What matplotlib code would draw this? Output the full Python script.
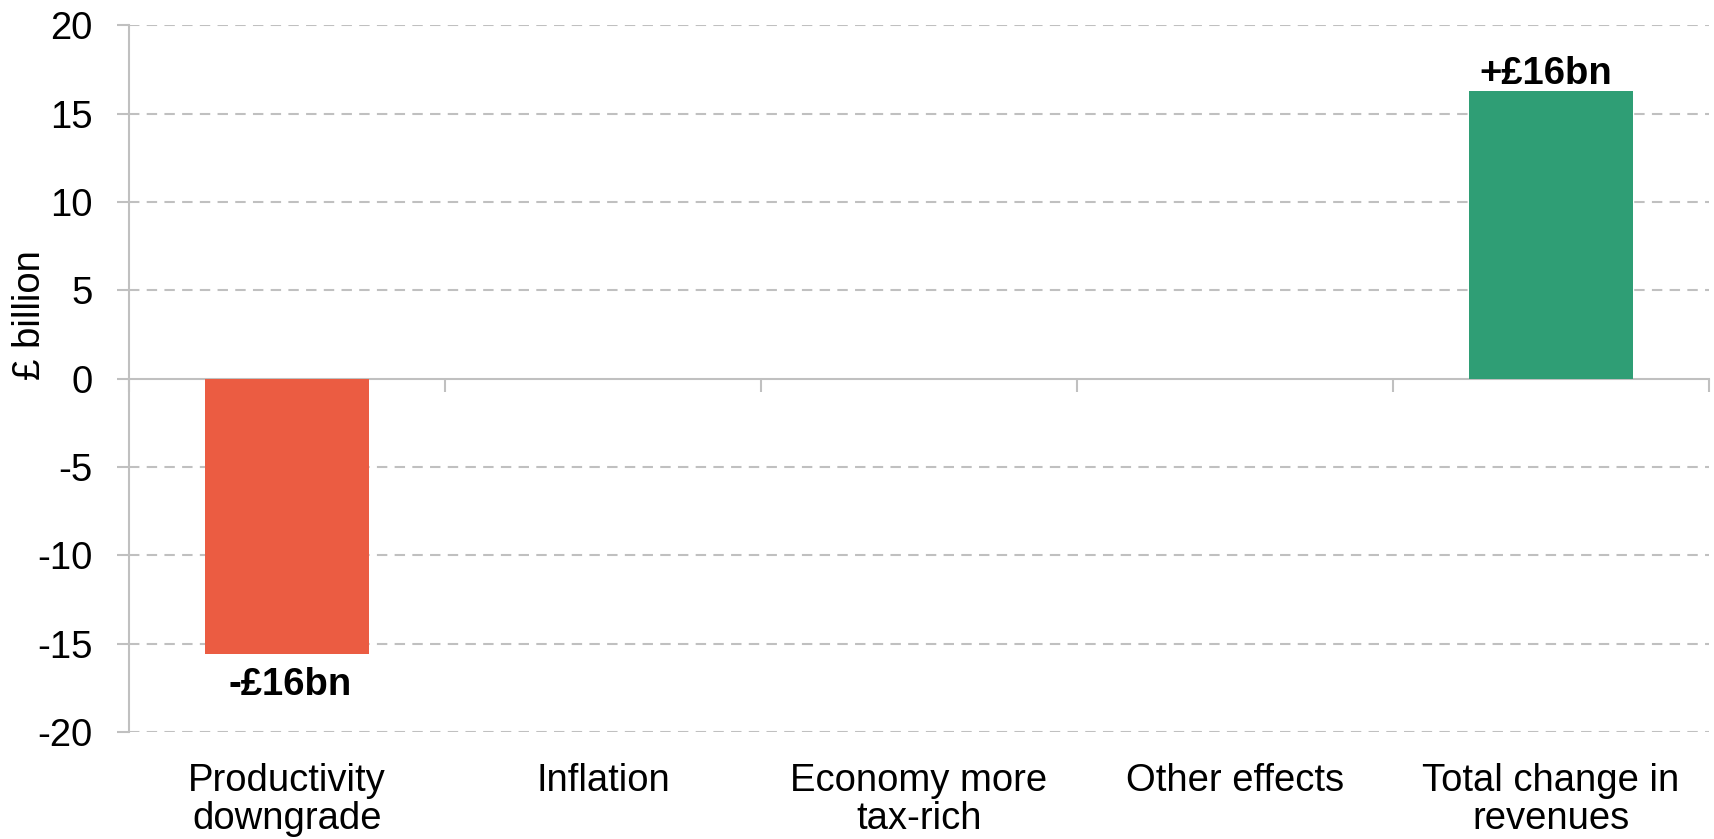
import matplotlib
matplotlib.use("Agg")
import matplotlib.pyplot as plt
import numpy as np

plt.rcParams['font.family'] = ['Liberation Sans', 'DejaVu Sans']
plt.rcParams['axes.unicode_minus'] = False

categories = ["Productivity\ndowngrade", "Inflation", "Economy more\ntax-rich",
              "Other effects", "Total change in\nrevenues"]
values = [-15.6, 0.0, 0.0, 0.0, 16.3]
colours = ["#EB5C42", "#EB5C42", "#EB5C42", "#EB5C42", "#2F9E75"]
bar_labels = ["-£16bn", "", "", "", "+£16bn"]
yticks = [-20, -15, -10, -5, 0, 5, 10, 15, 20]

grey = "#C0C0C0"
fs = 27.5

fig = plt.figure(figsize=(17.14, 8.39), dpi=100)
ax = fig.add_axes([0.0753, 0.1275, 0.9217, 0.8425])

x = np.arange(len(categories))
ax.bar(x, values, width=0.52, color=colours, zorder=3)

# value labels for the coloured bars
for xi, v, lab in zip(x, values, bar_labels):
    if not lab:
        continue
    if v < 0:
        ax.annotate(lab, (xi, v), xytext=(2, -9), textcoords="offset points",
                    ha="center", va="top", fontsize=fs, fontweight="bold")
    else:
        ax.annotate(lab, (xi, v), xytext=(-4, -1), textcoords="offset points",
                    ha="center", va="bottom", fontsize=fs, fontweight="bold")

ax.set_xlim(-0.5, len(categories) - 0.5)
ax.set_ylim(-20, 20)
ax.set_yticks(yticks)
ax.set_yticklabels([str(t) for t in yticks], fontsize=fs)

# dashed gridlines, solid zero line
for t in yticks:
    if t == 0:
        continue
    ax.axhline(t, color=grey, lw=1.5, ls=(0, (5, 3.5)), zorder=1)

for s in ["top", "right"]:
    ax.spines[s].set_visible(False)
ax.spines["left"].set_color(grey)
ax.spines["left"].set_linewidth(1.5)
ax.spines["bottom"].set_position(("data", 0))
ax.spines["bottom"].set_color(grey)
ax.spines["bottom"].set_linewidth(1.5)

ax.tick_params(axis="y", length=9, width=1.5, color=grey, pad=17)
ax.set_xticks(np.arange(len(categories) + 1) - 0.5)
ax.set_xticklabels([])
ax.tick_params(axis="x", length=9, width=1.5, color=grey, direction="out")

# category labels below the plot area
for xi, cat in zip(x, categories):
    ax.annotate(cat, (xi, -20), xytext=(0, -22), textcoords="offset points",
                ha="center", va="top", fontsize=fs, linespacing=1.08,
                annotation_clip=False)

ax.set_ylabel("£ billion", fontsize=fs)
ax.yaxis.set_label_coords(-0.051, 0.59)

fig.savefig("out.png", dpi=100)
